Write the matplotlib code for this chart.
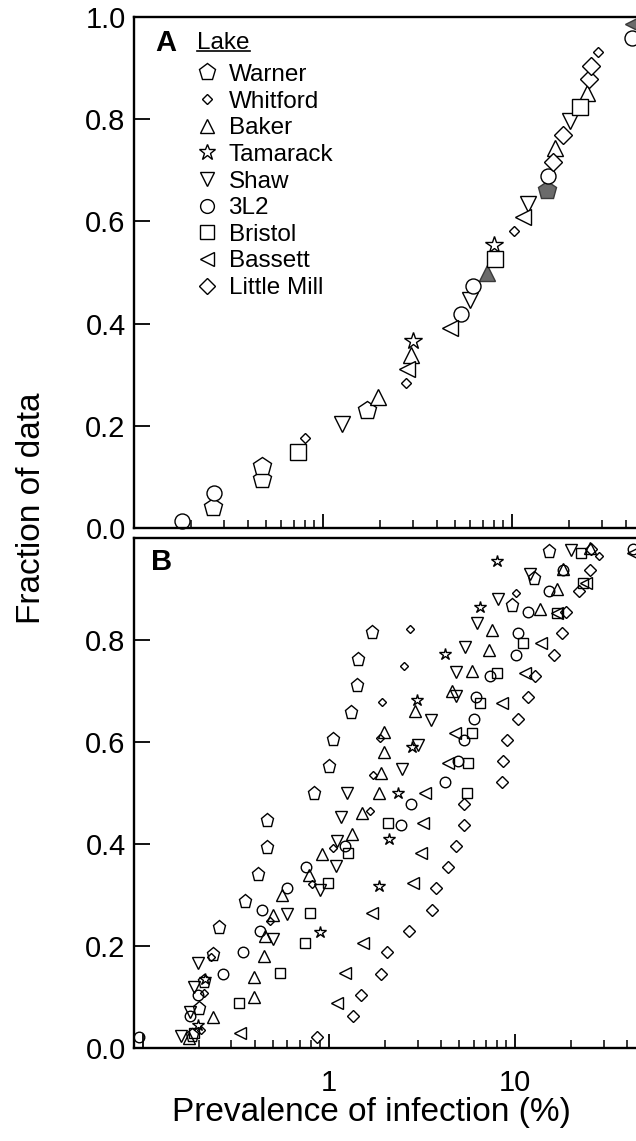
import matplotlib
matplotlib.use('Agg')
import matplotlib.pyplot as plt
from matplotlib.ticker import FixedLocator, FuncFormatter, NullFormatter
from matplotlib.lines import Line2D

plt.rcParams['font.family'] = ['Liberation Sans', 'DejaVu Sans']

lakes = ['Warner', 'Whitford', 'Baker', 'Tamarack', 'Shaw', '3L2', 'Bristol', 'Bassett', 'Little Mill']

# panel A: one point per sample, ranked
a_lake = ['3L2', 'Warner', '3L2', 'Warner', 'Warner', 'Bristol', 'Whitford', 'Shaw', 'Warner', 'Baker',
          'Whitford', 'Bassett', 'Baker', 'Tamarack', 'Bassett', '3L2', 'Shaw', '3L2', 'Baker', 'Bristol',
          'Tamarack', 'Whitford', 'Bassett', 'Shaw', 'Warner', '3L2', 'Little Mill', 'Baker', 'Little Mill', 'Shaw',
          'Bristol', 'Baker', 'Little Mill', 'Little Mill', 'Whitford', '3L2', 'Bassett']
a_prev = [0.179, 0.263, 0.265, 0.474, 0.474, 0.737, 0.80, 1.265, 1.70, 1.96,
          2.75, 2.79, 2.92, 3.0, 4.70, 5.37, 6.0, 6.2, 7.4, 8.1,
          8.0, 10.3, 11.4, 12.2, 15.3, 15.5, 16.5, 16.9, 18.7, 20.3,
          22.9, 25.0, 25.5, 26.1, 28.6, 43.0, 43.9]
a_frac = [0.014, 0.041, 0.068, 0.095, 0.122, 0.149, 0.176, 0.203, 0.230, 0.257,
          0.284, 0.311, 0.338, 0.365, 0.392, 0.419, 0.446, 0.473, 0.500, 0.527,
          0.554, 0.581, 0.608, 0.635, 0.662, 0.689, 0.716, 0.743, 0.770, 0.797,
          0.824, 0.851, 0.878, 0.905, 0.932, 0.959, 0.986]
a_shaded = [False] * 18 + [True] + [False] * 5 + [True] + [False] * 11 + [True]

# panel B: cumulative distribution per lake
warner_prev = [0.185, 0.20, 0.215, 0.238, 0.257, 0.357, 0.417, 0.466, 0.466, 0.834,
               1.0, 1.06, 1.32, 1.42, 1.43, 1.70, 9.6, 12.7, 15.2]
warner_frac = [0.026, 0.078, 0.131, 0.184, 0.237, 0.289, 0.342, 0.394, 0.447, 0.500,
               0.553, 0.605, 0.658, 0.711, 0.763, 0.816, 0.868, 0.921, 0.974]
whitford_prev = [0.205, 0.214, 0.232, 0.486, 0.815, 1.06, 1.66, 1.73, 1.88, 1.93, 2.53, 2.73, 10.2, 28.4]
whitford_frac = [0.036, 0.107, 0.179, 0.250, 0.321, 0.393, 0.464, 0.536, 0.607, 0.679,
                 0.750, 0.821, 0.893, 0.964]
baker_prev = [0.177, 0.239, 0.397, 0.397, 0.447, 0.453, 0.50, 0.564, 0.78, 0.92,
              1.34, 1.51, 1.86, 1.92, 1.98, 1.98, 2.92, 4.62, 5.9, 7.27,
              7.5, 13.6, 16.8, 18.2, 25.3]
baker_frac = [0.02, 0.06, 0.10, 0.14, 0.18, 0.22, 0.26, 0.30, 0.34, 0.38,
              0.42, 0.46, 0.50, 0.54, 0.58, 0.62, 0.66, 0.70, 0.74, 0.78,
              0.82, 0.86, 0.90, 0.94, 0.98]
tamarack_prev = [0.198, 0.217, 0.90, 1.87, 2.10, 2.36, 2.80, 2.98, 4.2, 6.5, 8.0]
tamarack_frac = [0.045, 0.136, 0.227, 0.318, 0.409, 0.500, 0.591, 0.682, 0.773, 0.864, 0.955]
shaw_prev = [0.16, 0.179, 0.19, 0.198, 0.50, 0.597, 0.895, 1.09, 1.11, 1.17,
             1.26, 2.49, 3.02, 3.56, 4.82, 4.85, 5.43, 6.3, 8.17, 12.1, 20.0]
shaw_frac = [0.024, 0.071, 0.119, 0.167, 0.214, 0.262, 0.310, 0.357, 0.405, 0.452,
             0.500, 0.548, 0.595, 0.643, 0.690, 0.738, 0.786, 0.833, 0.881, 0.929, 0.976]
l3l2_prev = [0.096, 0.179, 0.198, 0.269, 0.346, 0.426, 0.44, 0.60, 0.76, 1.23,
             2.46, 2.78, 4.2, 4.95, 5.3, 6.05, 6.17, 7.34, 10.2, 10.4,
             11.7, 15.3, 18.2, 43.0]
l3l2_frac = [0.021, 0.063, 0.104, 0.146, 0.188, 0.229, 0.271, 0.313, 0.354, 0.396,
             0.438, 0.479, 0.521, 0.563, 0.604, 0.646, 0.688, 0.729, 0.771, 0.813,
             0.854, 0.896, 0.938, 0.979]
bristol_prev = [0.19, 0.328, 0.545, 0.743, 0.79, 0.99, 1.27, 2.08, 5.5, 5.6,
                5.9, 6.5, 8.0, 11.1, 16.8, 23.1, 22.6]
bristol_frac = [0.029, 0.088, 0.147, 0.206, 0.265, 0.324, 0.382, 0.441, 0.500, 0.559,
                0.618, 0.676, 0.735, 0.794, 0.853, 0.912, 0.971]
bassett_prev = [0.335, 1.11, 1.22, 1.53, 1.71, 2.84, 3.15, 3.21, 3.31, 4.38,
                4.76, 8.5, 11.4, 13.8, 16.8, 24.0, 43.0]
bassett_frac = [0.029, 0.088, 0.147, 0.206, 0.265, 0.324, 0.382, 0.441, 0.500, 0.559,
                0.618, 0.676, 0.735, 0.794, 0.853, 0.912, 0.971]
littlemill_prev = [0.865, 1.35, 1.49, 1.92, 2.06, 2.71, 3.61, 3.79, 4.38, 4.85,
                   5.3, 5.34, 8.5, 8.6, 9.1, 10.4, 11.7, 12.8, 16.3, 17.9,
                   18.8, 22.2, 25.3, 25.6]
littlemill_frac = [0.021, 0.063, 0.104, 0.146, 0.188, 0.229, 0.271, 0.313, 0.354, 0.396,
                   0.438, 0.479, 0.521, 0.563, 0.604, 0.646, 0.688, 0.729, 0.771, 0.813,
                   0.854, 0.896, 0.938, 0.979]

b_series = {
    'Warner': (warner_prev, warner_frac),
    'Whitford': (whitford_prev, whitford_frac),
    'Baker': (baker_prev, baker_frac),
    'Tamarack': (tamarack_prev, tamarack_frac),
    'Shaw': (shaw_prev, shaw_frac),
    '3L2': (l3l2_prev, l3l2_frac),
    'Bristol': (bristol_prev, bristol_frac),
    'Bassett': (bassett_prev, bassett_frac),
    'Little Mill': (littlemill_prev, littlemill_frac),
}

shape = {'Warner': 'p', 'Whitford': 'D', 'Baker': '^', 'Tamarack': '*', 'Shaw': 'v',
         '3L2': 'o', 'Bristol': 's', 'Bassett': '<', 'Little Mill': 'D'}
size_a = {'Warner': 13.5, 'Whitford': 5.6, 'Baker': 11.5, 'Tamarack': 12.9, 'Shaw': 11.5,
          '3L2': 10.8, 'Bristol': 11.3, 'Bassett': 11.5, 'Little Mill': 8.7}
size_b = {'Warner': 9.8, 'Whitford': 3.8, 'Baker': 8.4, 'Tamarack': 9.3, 'Shaw': 8.4,
          '3L2': 7.6, 'Bristol': 7.4, 'Bassett': 8.0, 'Little Mill': 6.6}

fig = plt.figure(figsize=(6.36, 11.41), dpi=100)
W, H = 636.0, 1141.0
axA = fig.add_axes([134 / W, 1 - 528 / H, 567 / W, 511 / H])
axB = fig.add_axes([134 / W, 1 - 1048 / H, 567 / W, 510 / H])


def style_axis(ax, xmin, yticks, xlabels):
    ax.set_xscale('log')
    ax.set_xlim(xmin, 100)
    ax.set_ylim(0, 1)
    ax.xaxis.set_major_locator(FixedLocator([0.1, 1, 10, 100]))
    ax.xaxis.set_minor_locator(FixedLocator([m * d for d in (0.1, 1, 10) for m in range(2, 10)]))
    ax.xaxis.set_minor_formatter(NullFormatter())
    if xlabels:
        ax.xaxis.set_major_formatter(FuncFormatter(lambda v, p: '%g' % v if v in (1, 10) else ''))
    else:
        ax.xaxis.set_major_formatter(NullFormatter())
    ax.set_yticks(yticks)
    ax.yaxis.set_major_formatter(FuncFormatter(lambda v, p: '%.1f' % v))
    ax.tick_params(axis='x', which='major', direction='in', length=10, width=1.3,
                   labelsize=21, pad=15, top=False)
    ax.tick_params(axis='x', which='minor', direction='in', length=5.5, width=1.1, top=False)
    ax.tick_params(axis='y', which='major', direction='in', length=11.5, width=1.3,
                   labelsize=21, pad=6, right=False)
    for sp in ax.spines.values():
        sp.set_linewidth(1.7)


style_axis(axA, 0.1, [0, 0.2, 0.4, 0.6, 0.8, 1.0], False)
style_axis(axB, 0.09, [0, 0.2, 0.4, 0.6, 0.8], True)

# panel A
handles = {}
for lake in lakes:
    xs = [p for p, l, s in zip(a_prev, a_lake, a_shaded) if l == lake and not s]
    ys = [f for f, l, s in zip(a_frac, a_lake, a_shaded) if l == lake and not s]
    ln, = axA.plot(xs, ys, ls='none', marker=shape[lake], ms=size_a[lake], mfc='white',
                   mec='black', mew=1.0, clip_on=False)
    handles[lake] = ln
    xs = [p for p, l, s in zip(a_prev, a_lake, a_shaded) if l == lake and s]
    ys = [f for f, l, s in zip(a_frac, a_lake, a_shaded) if l == lake and s]
    if xs:
        axA.plot(xs, ys, ls='none', marker=shape[lake], ms=size_a[lake], mfc='#6b6b6b',
                 mec='#3a3a3a', mew=1.0, clip_on=False)

# panel B
for lake in lakes:
    xs, ys = b_series[lake]
    axB.plot(xs, ys, ls='none', marker=shape[lake], ms=size_b[lake], mfc='none',
             mec='black', mew=1.0, clip_on=False)

leg_x = (195 - 134) / 567
leg = axA.legend([handles[l] for l in lakes], lakes, loc='upper left',
                 bbox_to_anchor=(leg_x, (528 - 62) / 511), frameon=False,
                 fontsize=17.5, handlelength=1.0, handletextpad=0.38, labelspacing=0.19,
                 borderpad=0, borderaxespad=0, markerscale=0.92)
title = axA.text((197 - 134) / 567, (528 - 43) / 511, 'Lake', transform=axA.transAxes,
                 fontsize=17.5, va='center', ha='left')

axA.text((155 - 134) / 567, (528 - 43) / 511, 'A', transform=axA.transAxes,
         fontsize=21, fontweight='bold', va='center', ha='left')
axB.text((151 - 134) / 567, (1048 - 562) / 510, 'B', transform=axB.transAxes,
         fontsize=21, fontweight='bold', va='center', ha='left')

fig.text(31 / W, 1 - 508 / H, 'Fraction of data', rotation=90, fontsize=24,
         ha='center', va='center')
fig.text(371 / W, 1 - 1112 / H, 'Prevalence of infection (%)', fontsize=24,
         ha='center', va='center')

# nudge the legend so the first entry sits at y=75 px, then underline the title
fig.canvas.draw()
t0 = leg.get_texts()[0].get_window_extent()
shift = (H - 75) - (t0.y0 + t0.y1) / 2
leg.set_bbox_to_anchor((leg_x, (528 - 62) / 511 + shift / 511), transform=axA.transAxes)
fig.canvas.draw()
tb = title.get_window_extent()
fig.add_artist(Line2D([tb.x0 / W, tb.x1 / W], [(tb.y0 + 3) / H, (tb.y0 + 3) / H],
                      transform=fig.transFigure, color='black', lw=1.2))

fig.savefig('out.png', dpi=100)
